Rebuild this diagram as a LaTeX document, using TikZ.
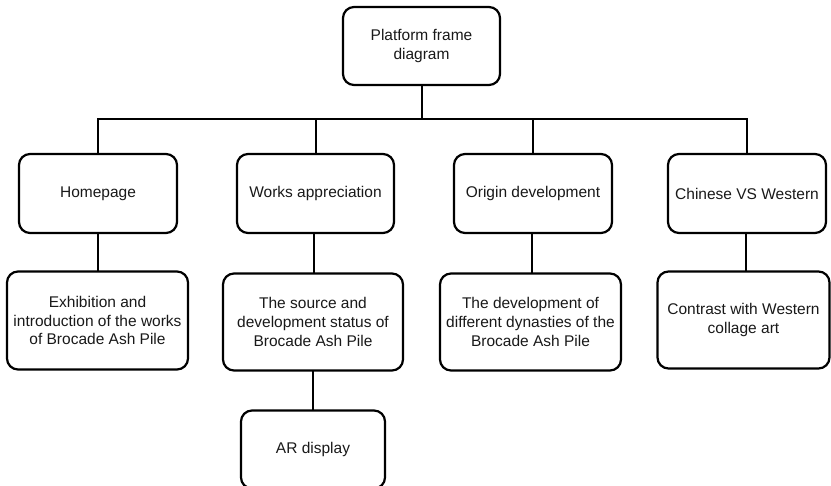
\documentclass[tikz,border=0pt]{standalone}
\usepackage{fontspec}
\setmainfont{Liberation Sans}
\pgfdeclarelayer{background}
\pgfsetlayers{background,main}
\begin{document}
\begin{tikzpicture}[x=1pt,y=-1pt,
  box/.style={draw=black, line width=2.2pt, rounded corners=11pt, fill=white,
    align=center, inner sep=2pt, text=black!90,
    font=\fontsize{15.5}{18.8}\selectfont},
  link/.style={draw=black, line width=2pt}]
\useasboundingbox (0,0) rectangle (831,486);

% root
\node[box, minimum width=157pt, minimum height=78pt] (top) at (421.5,46) {Platform frame\\diagram};

% first level
\node[box, minimum width=158pt, minimum height=79pt] (home) at (98,193.5) {Homepage};
\node[box, minimum width=157pt, minimum height=79pt] (works) at (315.5,193.5) {Works appreciation};
\node[box, minimum width=158pt, minimum height=79pt] (origin) at (533,193.5) {Origin development};
\node[box, minimum width=158pt, minimum height=79pt] (cvw) at (747,193.5) {Chinese VS Western};

% second level
\node[box, minimum width=181pt, minimum height=98pt] (exh) at (97.5,320.5) {Exhibition and\\introduction of the works\\of Brocade Ash Pile};
\node[box, minimum width=180pt, minimum height=97pt] (src) at (313,322) {The source and\\development status of\\Brocade Ash Pile};
\node[box, minimum width=181pt, minimum height=97pt] (dyn) at (530.5,322) {The development of\\different dynasties of the\\Brocade Ash Pile};
\node[box, minimum width=172pt, minimum height=97pt] (con) at (743.5,320) {Contrast with Western\\collage art};

% third level
\node[box, minimum width=144pt, minimum height=78pt] (ar) at (313,449.5) {AR display};

% tree connectors, kept behind the boxes
\begin{pgfonlayer}{background}
\coordinate (bus) at (0,119);
\draw[link] (top.center) -- (top.center |- bus);
\draw[link] (home.center) -- (home.center |- bus) -- (cvw.center |- bus) -- (cvw.center);
\draw[link] (works.center) -- (works.center |- bus);
\draw[link] (origin.center) -- (origin.center |- bus);

\draw[link] (home.center) -- (home.center |- exh.center);
\draw[link] (src.center -| 313.5,0) -- (works.center -| 313.5,0);
\draw[link] (dyn.center -| 531.5,0) -- (origin.center -| 531.5,0);
\draw[link] (con.center -| 746,0) -- (cvw.center -| 746,0);
\draw[link] (src.center) -- (ar.center);
\end{pgfonlayer}
\end{tikzpicture}
\end{document}
